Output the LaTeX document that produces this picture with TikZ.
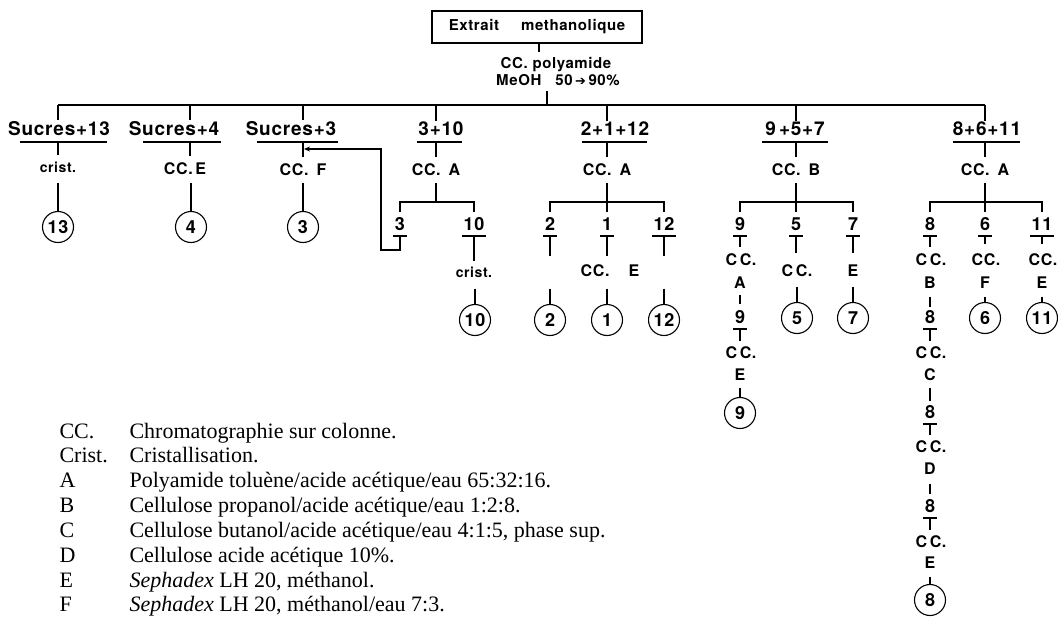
\documentclass[tikz,border=0pt]{standalone}
\usepackage{fontspec}
\setmainfont{Liberation Serif}
\newfontfamily\hv{TeX Gyre Heros}[LetterSpace=4]
\newfontfamily\dv{DejaVu Sans}
\usetikzlibrary{arrows.meta}
\tikzset{
 hdr/.style={font=\hv\bfseries\fontsize{19}{19}\selectfont, inner sep=0pt, anchor=base},
 cc/.style={font=\hv\bfseries\fontsize{16}{16}\selectfont, inner sep=0pt, anchor=base},
 cr/.style={font=\hv\bfseries\fontsize{14}{14}\selectfont, inner sep=0pt, anchor=base},
 sub/.style={font=\hv\bfseries\fontsize{18}{18}\selectfont, inner sep=0pt, anchor=base},
 res/.style={circle, draw, minimum size=31pt, inner sep=0pt, font=\hv\bfseries\fontsize{18}{18}\selectfont},
 leg/.style={font=\fontsize{22}{22}\selectfont, inner sep=0pt, anchor=base west},
}
\newcommand\ulx[2]{\draw ([xshift=-#2pt,yshift=-6pt]#1.base) -- ([xshift=#2pt,yshift=-6pt]#1.base);}
\begin{document}
\begin{tikzpicture}[x=1pt,y=-1pt,line width=1.1pt]
\useasboundingbox (0,0) rectangle (1058,618);
% levels
\coordinate (yU) at (0,142);
\coordinate (yA) at (0,183);
\coordinate (yB) at (0,202);
\coordinate (yK) at (0,212);
\coordinate (yS) at (0,236);
\coordinate (yL) at (0,250);
% top
\node[draw, minimum width=210pt, minimum height=32pt, inner sep=0pt, font=\hv\bfseries\fontsize{15}{15}\selectfont] (src) at (537,27) {Extrait\hspace{22pt}methanolique};
\node[cc, font=\hv\bfseries\fontsize{15}{15}\selectfont] (poly) at (556,69) {CC. polyamide};
\node[cc, font=\hv\bfseries\fontsize{15}{15}\selectfont] (meoh) at (558,85) {MeOH\hspace{14pt}50\,{\dv\bfseries\fontsize{13}{13}\selectfont ➔}\,90\%};
\coordinate (t1) at (539,52);
\draw (src.south -| t1) -- (t1);
\coordinate (t2) at (547,91);
\coordinate (bar) at (547,105);
\draw (t2) -- (bar);
\coordinate (b1) at (58,105);
\coordinate (b2) at (190,105);
\coordinate (b3) at (303,105);
\coordinate (b4) at (436,105);
\coordinate (b5) at (607,105);
\coordinate (b6) at (796,105);
\coordinate (b7) at (985,105);
\draw (b1) -- (b7);
% column 1
\node[hdr] (h1) at (59,135) {Sucres+13};
\draw (b1) -- (b1 |- h1.north);
\draw (20,142) -- (107,142);
\node[cr] (c1) at (58,172) {crist.};
\draw[shorten >=6pt] (b1 |- yU) -- (b1 |- c1.north);
\node[res] (r13) at (58,227) {13};
\draw (r13.north |- yA) -- (r13.north);
% column 2
\node[hdr] (h2) at (174,135) {Sucres+4};
\draw (b2) -- (b2 |- h2.north);
\draw (143,142) -- (221,142);
\node[cc] (c2) at (185,174) {CC.\,E};
\draw[shorten >=6pt] (b2 |- yU) -- (b2 |- c2.north);
\node[res] (r4) at (191,227) {4};
\draw (r4.north |- yA) -- (r4.north);
% column 3
\node[hdr] (h3) at (291,135) {Sucres+3};
\draw (b3) -- (b3 |- h3.north);
\draw (257,142) -- (338,142);
\node[cc] (c3) at (303,175) {CC.\hspace{0.5em}F};
\draw[shorten >=6pt] (b3 |- yU) -- (b3 |- c3.north);
\node[res] (r3) at (303,227) {3};
\draw (r3.north |- yA) -- (r3.north);
\coordinate (arr) at (304,149);
\coordinate (L1) at (381,149);
\coordinate (L2) at (381,250);
% column 4
\node[hdr] (h4) at (441,135) {3+10};
\draw (b4) -- (b4 |- h4.north);
\draw (417,142) -- (462,142);
\node[cc] (c4) at (436,175) {CC.\hspace{0.5em}A};
\draw[shorten >=6pt] (b4 |- yU) -- (b4 |- c4.north);
\draw (b4 |- yA) -- (b4 |- yB);
\node[sub] (s3) at (400,230) {3};
\node[sub] (s10) at (474,230) {10};
\draw (s3 |- yK) -- (s3 |- yB) -- (s10 |- yB) -- (s10 |- yK);
\ulx{s3}{7}
\ulx{s10}{12}
\draw[-{Stealth[length=6pt,width=5pt]}] (s3 |- yS) -- (s3 |- yL) -- (L2) -- (L1) -- (arr);
\node[cr] (c10) at (474,277) {crist.};
\draw[shorten <=6pt, shorten >=5pt] (s10.base) -- (s10.base |- c10.north);
\node[res] (r10) at (475,320) {10};
\draw[shorten <=11pt] (r10.north |- c10.south) -- (r10.north);
% column 5
\node[hdr] (h5) at (615,135) {2+1+12};
\draw (b5) -- (b5 |- h5.north);
\draw (582,142) -- (647,142);
\node[cc] (c5) at (607,175) {CC.\hspace{0.5em}A};
\draw[shorten >=6pt] (b5 |- yU) -- (b5 |- c5.north);
\node[sub] (s2) at (550,230) {2};
\node[sub] (s1) at (607,230) {1};
\node[sub] (s12) at (664,230) {12};
\draw (b5 |- yA) -- (s1 |- yK);
\draw (s2 |- yK) -- (s2 |- yB) -- (s12 |- yB) -- (s12 |- yK);
\ulx{s2}{7}
\ulx{s1}{7}
\ulx{s12}{12}
\node[cc] (c1e) at (610,276) {CC.\hspace{1.2em}E};
\node[res] (r2) at (550,320) {2};
\node[res] (r1) at (607,320) {1};
\node[res] (r12) at (664,320) {12};
\draw[shorten <=6pt, shorten >=8pt] (s2.base) -- (s2.base |- c1e.north);
\draw[shorten <=6pt, shorten >=8pt] (s1.base) -- (s1.base |- c1e.north);
\draw[shorten <=6pt, shorten >=8pt] (s12.base) -- (s12.base |- c1e.north);
\draw[shorten <=12pt] (r2.north |- c1e.south) -- (r2.north);
\draw[shorten <=12pt] (r1.north |- c1e.south) -- (r1.north);
\draw[shorten <=12pt] (r12.north |- c1e.south) -- (r12.north);
% column 6
\node[hdr] (h6) at (795,135) {9\,+5+7};
\draw (b6) -- (b6 |- h6.north);
\draw (762,142) -- (828,142);
\node[cc] (c6) at (796,175) {CC.\hspace{0.5em}B};
\draw[shorten >=6pt] (b6 |- yU) -- (b6 |- c6.north);
\node[sub] (s9) at (740,230) {9};
\node[sub] (s5) at (796,230) {5};
\node[sub] (s7) at (853,230) {7};
\draw (b6 |- yA) -- (s5 |- yK);
\draw (s9 |- yK) -- (s9 |- yB) -- (s7 |- yB) -- (s7 |- yK);
\ulx{s9}{7}
\ulx{s5}{7}
\ulx{s7}{7}
\node[cc] (c9a) at (741,265) {C\,C.};
\node[cc] (c9b) at (740,288) {A};
\node[sub] (s9b) at (740,323) {9};
\ulx{s9b}{7}
\node[cc] (c9c) at (741,358) {C\,C.};
\node[cc] (c9d) at (740,380) {E};
\node[res] (r9) at (740,413) {9};
\draw[shorten <=6pt, shorten >=6pt] (s9.base) -- (s9.base |- c9a.north);
\draw[shorten <=6pt, shorten >=5pt] (c9b.south) -- (s9b.north);
\draw[shorten <=6pt, shorten >=5pt] (s9b.base) -- (s9b.base |- c9c.north);
\draw[shorten <=7pt] (c9d.south) -- (r9.north);
\node[cc] (c5b) at (797,276) {C\,C.};
\node[res] (r5) at (797,318) {5};
\draw[shorten <=6pt, shorten >=11pt] (s5.base) -- (s5.base |- c5b.north);
\draw[shorten <=10pt] (r5.north |- c5b.south) -- (r5.north);
\node[cc] (c7b) at (853,276) {E};
\node[res] (r7) at (853,318) {7};
\draw[shorten <=6pt, shorten >=11pt] (s7.base) -- (s7.base |- c7b.north);
\draw[shorten <=10pt] (c7b.south) -- (r7.north);
% column 7
\node[hdr] (h7) at (987,135) {8+6+11};
\draw (b7) -- (b7 |- h7.north);
\draw (953,142) -- (1020,142);
\node[cc] (c7) at (985,175) {CC.\hspace{0.5em}A};
\draw[shorten >=6pt] (b7 |- yU) -- (b7 |- c7.north);
\node[sub] (s8) at (930,230) {8};
\node[sub] (s6) at (985,230) {6};
\node[sub] (s11) at (1042,230) {11};
\draw (b7 |- yA) -- (s6 |- yK);
\draw (s8 |- yK) -- (s8 |- yB) -- (s11 |- yB) -- (s11 |- yK);
\ulx{s8}{7}
\ulx{s6}{7}
\ulx{s11}{12}
% chain 8
\node[cc] (c8a) at (931,265) {C\,C.};
\node[cc] (c8b) at (930,288) {B};
\node[sub] (s8b) at (930,323) {8};
\ulx{s8b}{7}
\node[cc] (c8c) at (931,358) {C\,C.};
\node[cc] (c8d) at (930,380) {C};
\node[sub] (s8c) at (930,418) {8};
\ulx{s8c}{7}
\node[cc] (c8e) at (931,452) {C\,C.};
\node[cc] (c8f) at (930,474) {D};
\node[sub] (s8d) at (930,512) {8};
\ulx{s8d}{7}
\node[cc] (c8g) at (931,547) {C\,C.};
\node[cc] (c8h) at (930,568) {E};
\node[res] (r8) at (930,600) {8};
\draw[shorten <=6pt, shorten >=6pt] (s8.base) -- (s8.base |- c8a.north);
\draw[shorten <=8pt, shorten >=2pt] (c8b.south) -- (s8b.north);
\draw[shorten <=6pt, shorten >=5pt] (s8b.base) -- (s8b.base |- c8c.north);
\draw[shorten <=7pt, shorten >=3pt] (c8d.south) -- (s8c.north);
\draw[shorten <=6pt, shorten >=5pt] (s8c.base) -- (s8c.base |- c8e.north);
\draw[shorten <=9pt, shorten >=4pt] (c8f.south) -- (s8d.north);
\draw[shorten <=6pt, shorten >=5pt] (s8d.base) -- (s8d.base |- c8g.north);
\draw[shorten <=8pt] (c8h.south) -- (r8.north);
% 6 and 11
\node[cc] (c6a) at (986,265) {CC.};
\node[cc] (c6b) at (985,288) {F};
\node[res] (r6) at (985,318) {6};
\draw[shorten <=6pt, shorten >=9pt] (s6.base) -- (s6.base |- c6a.north);
\draw[shorten <=8pt] (c6b.south) -- (r6.north);
\node[cc] (c11a) at (1043,265) {CC.};
\node[cc] (c11b) at (1042,288) {E};
\node[res] (r11) at (1042,318) {11};
\draw[shorten <=6pt, shorten >=9pt] (s11.base) -- (s11.base |- c11a.north);
\draw[shorten <=8pt] (c11b.south) -- (r11.north);
% legend
\node[leg] (la1) at (59,438) {CC.};
\node[leg] (lb1) at (129,438) {Chromatographie sur colonne.};
\node[leg] (la2) at (59,462.9) {Crist.};
\node[leg] (lb2) at (129,462.9) {Cristallisation.};
\node[leg] (la3) at (59,487.7) {A};
\node[leg] (lb3) at (129,487.7) {Polyamide toluène/acide acétique/eau 65:32:16.};
\node[leg] (la4) at (59,512.6) {B};
\node[leg] (lb4) at (129,512.6) {Cellulose propanol/acide acétique/eau 1:2:8.};
\node[leg] (la5) at (59,537.4) {C};
\node[leg] (lb5) at (129,537.4) {Cellulose butanol/acide acétique/eau 4:1:5, phase sup.};
\node[leg] (la6) at (59,562.3) {D};
\node[leg] (lb6) at (129,562.3) {Cellulose acide acétique 10\%.};
\node[leg] (la7) at (59,587.1) {E};
\node[leg] (lb7) at (129,587.1) {\emph{Sephadex} LH 20, méthanol.};
\node[leg] (la8) at (59,611.5) {F};
\node[leg] (lb8) at (129,611.5) {\emph{Sephadex} LH 20, méthanol/eau 7:3.};
\end{tikzpicture}
\end{document}
